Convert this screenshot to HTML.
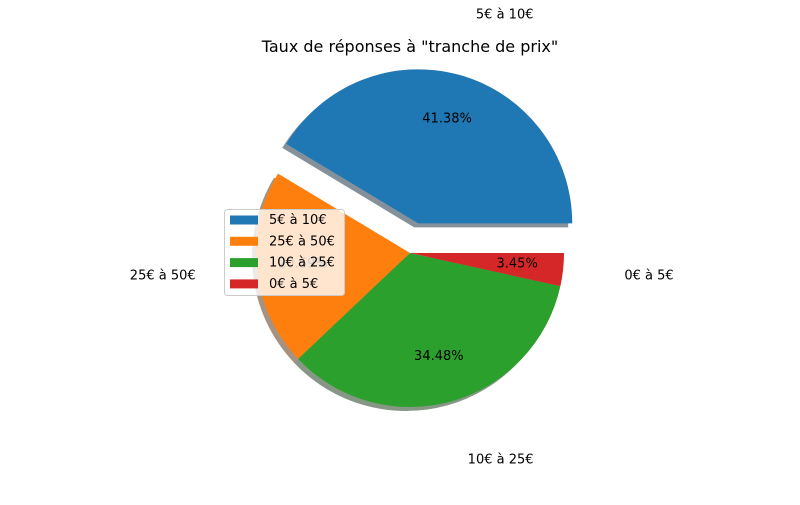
<!DOCTYPE html>
<html><head><meta charset="utf-8"><style>
body{margin:0;background:#fff}
svg text{font-family:"DejaVu Sans","Liberation Sans",sans-serif;font-size:13px;fill:#000}
</style></head><body>
<svg id="chart" width="800" height="500">
<rect width="800" height="500" fill="#fff"/>
<text x="410" y="52" text-anchor="middle" style="font-size:16px">Taux de réponses à "tranche de prix"</text>
<g id="shadows"></g><g id="wedges"></g><g id="labels"></g>
<g id="legend">
<rect x="224.5" y="209.5" width="120" height="86" rx="3" fill="#fff" fill-opacity="0.8" stroke="#ccc"/>
</g>
</svg>
<script>
const categories=["5€ à 10€","25€ à 50€","10€ à 25€","0€ à 5€"];
const values=[12,6,10,1];
const colors=["#1f77b4","#ff7f0e","#2ca02c","#d62728"];
const explode=[0.2,0,0,0];
const ns="http://www.w3.org/2000/svg";
const cx=410,cy=253,R=154;
const total=values.reduce((a,b)=>a+b,0);
function pt(x,y,r,a){return [x+r*Math.cos(a*Math.PI/180),y-r*Math.sin(a*Math.PI/180)];}
function arc(x,y,a0,a1){const p0=pt(x,y,R,a0),p1=pt(x,y,R,a1);const large=(a1-a0)>180?1:0;
return `M${x},${y}L${p0[0]},${p0[1]}A${R},${R} 0 ${large} 0 ${p1[0]},${p1[1]}Z`;}
function mk(t,attrs,parent,txt){const e=document.createElementNS(ns,t);for(const k in attrs)e.setAttribute(k,attrs[k]);if(txt!==undefined)e.textContent=txt;document.getElementById(parent).appendChild(e);return e;}
function dark(c){const n=parseInt(c.slice(1),16);return `rgb(${((n>>16)&255)*0.3},${((n>>8)&255)*0.3},${(n&255)*0.3})`;}
let a=0;
values.forEach((v,i)=>{
const span=v/total*360,mid=a+span/2;
const [x,y]=pt(cx,cy,R*explode[i],mid);
const s=mk('path',{d:arc(x-4,y+4,a,a+span),fill:dark(colors[i]),'fill-opacity':0.5},'shadows');


const w=mk('path',{d:arc(x,y,a,a+span),fill:colors[i]},'wedges');


const lp=pt(x,y,R*1.4,mid);
const l=mk('text',{x:lp[0],y:lp[1]+3,'text-anchor':lp[0]>=x?'start':'end'},'labels',categories[i]);


const pp=pt(x,y,R*0.7,mid);
const p=mk('text',{x:pp[0],y:pp[1]+3,'text-anchor':'middle'},'labels',(v/total*100).toFixed(2)+'%');


a+=span;
});
categories.forEach((c,i)=>{
const y=219+i*21.3;
const h=mk('rect',{x:230,y:y-3.5,width:28,height:9,fill:colors[i]},'legend');


const t=mk('text',{x:269,y:y+5},'legend',c);


});
</script>
</body></html>
